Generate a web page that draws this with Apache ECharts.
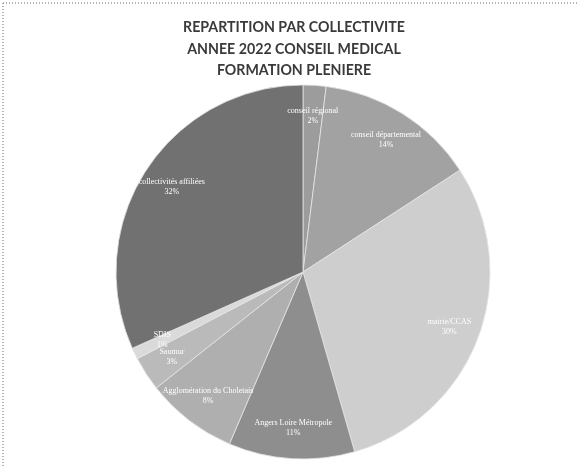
<!DOCTYPE html>
<html>
<head>
<meta charset="utf-8">
<script src="https://cdn.jsdelivr.net/npm/echarts@6/dist/echarts.min.js"></script>
<style>
html,body{margin:0;padding:0;background:#fff;}
#c{width:579px;height:466px;}
</style>
</head>
<body>
<div id="c"></div>
<script>
const titleLines = ['REPARTITION PAR COLLECTIVITE', 'ANNEE 2022 CONSEIL MEDICAL', 'FORMATION PLENIERE'];
const categories = ['conseil régional', 'conseil départemental', 'mairie/CCAS', 'Angers Loire Métropole', 'Agglomération du Choletais', 'Saumur', 'SDIS', 'collectivités affiliées'];
const values = [2, 14, 30, 11, 8, 3, 1, 32];
const colors = ['#9c9c9c', '#a2a2a2', '#cecece', '#8e8e8e', '#afafaf', '#bababa', '#dadada', '#717171'];

const chart = echarts.init(document.getElementById('c'), null, {renderer: 'canvas'});
const CX = 303, CY = 272, R = 187;
chart.setOption({
  backgroundColor: '#ffffff',
  animation: false,
  title: {
    text: titleLines.join('\n'),
    left: 289, top: 12, textAlign: 'center',
    textStyle: {fontFamily: 'Lato', fontWeight: 'bold', fontSize: 14.2, color: '#3a3a3a', lineHeight: 21.5}
  },
  graphic: [
    {type: 'line', shape: {x1: 3, y1: 3, x2: 579, y2: 3}, style: {stroke: '#9a9a9a', lineWidth: 1.5, lineDash: [1, 2]}, silent: true},
    {type: 'line', shape: {x1: 3, y1: 3, x2: 3, y2: 466}, style: {stroke: '#9a9a9a', lineWidth: 1.5, lineDash: [1, 2]}, silent: true}
  ],
  series: [{
    type: 'pie',
    center: [CX, CY],
    radius: [0, R],
    startAngle: 90,
    clockwise: true,
    avoidLabelOverlap: false,
    data: categories.map((c, i) => ({name: c, value: values[i], itemStyle: {color: colors[i]}})),
    itemStyle: {borderColor: '#e4e4e4', borderWidth: 0.8},
    label: {
      show: true, position: 'inside',
      formatter: p => p.name + '\n' + p.value + '%',
      color: '#ffffff', fontFamily: 'Liberation Serif', fontSize: 8, lineHeight: 10
    },
    labelLine: {show: false},
    labelLayout: function (p) {
      const lr = p.labelRect;
      const lx = lr.x + lr.width / 2, ly = lr.y + lr.height / 2;
      const k = 1.62;
      return {x: CX + (lx - CX) * k, y: CY + (ly - CY) * k};
    }
  }]
});
</script>
</body>
</html>
